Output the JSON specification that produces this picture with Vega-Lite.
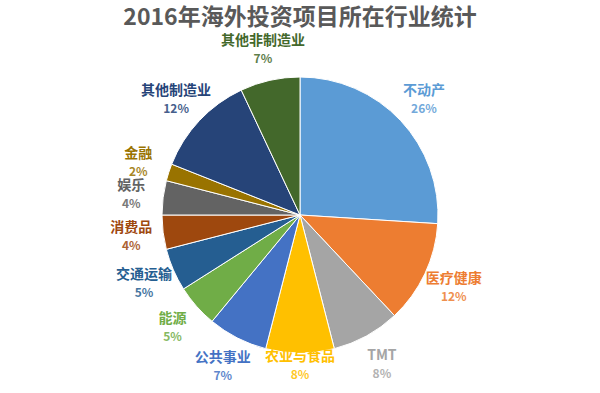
{
  "$schema": "https://vega.github.io/schema/vega-lite/v6.json",
  "width": 600,
  "height": 393,
  "autosize": {"type": "fit", "contains": "padding"},
  "padding": {"top": 10, "left": 0, "right": 0, "bottom": 0},
  "background": "white",
  "title": {
    "text": "2016年海外投资项目所在行业统计",
    "font": "Noto Sans CJK SC",
    "fontSize": 23,
    "fontWeight": "bold",
    "color": "#595959",
    "offset": 4
  },
  "config": {"view": {"stroke": null}},
  "data": {
    "values": [
      {"order": 1, "industry": "不动产", "value": 26, "pct": "26%"},
      {"order": 2, "industry": "医疗健康", "value": 12, "pct": "12%"},
      {"order": 3, "industry": "TMT", "value": 8, "pct": "8%"},
      {"order": 4, "industry": "农业与食品", "value": 8, "pct": "8%"},
      {"order": 5, "industry": "公共事业", "value": 7, "pct": "7%"},
      {"order": 6, "industry": "能源", "value": 5, "pct": "5%"},
      {"order": 7, "industry": "交通运输", "value": 5, "pct": "5%"},
      {"order": 8, "industry": "消费品", "value": 4, "pct": "4%"},
      {"order": 9, "industry": "娱乐", "value": 4, "pct": "4%"},
      {"order": 10, "industry": "金融", "value": 2, "pct": "2%"},
      {"order": 11, "industry": "其他制造业", "value": 12, "pct": "12%"},
      {"order": 12, "industry": "其他非制造业", "value": 7, "pct": "7%"}
    ]
  },
  "encoding": {
    "theta": {"field": "value", "type": "quantitative", "stack": true},
    "order": {"field": "order", "type": "quantitative"},
    "color": {
      "field": "industry",
      "type": "nominal",
      "legend": null,
      "scale": {
        "domain": ["不动产", "医疗健康", "TMT", "农业与食品", "公共事业", "能源", "交通运输", "消费品", "娱乐", "金融", "其他制造业", "其他非制造业"],
        "range": ["#5B9BD5", "#ED7D31", "#A5A5A5", "#FFC000", "#4472C4", "#70AD47", "#255E91", "#9E480E", "#636363", "#997300", "#264478", "#43682B"]
      }
    }
  },
  "layer": [
    {
      "mark": {"type": "arc", "outerRadius": 138, "stroke": "white", "strokeWidth": 1}
    },
    {
      "mark": {"type": "text", "radius": 170, "dy": -8, "font": "Noto Sans CJK SC", "fontSize": 14, "fontWeight": "bold"},
      "encoding": {
        "text": {"field": "industry"},
        "opacity": {"condition": {"test": "datum.order == 4", "value": 0}, "value": 1}
      }
    },
    {
      "mark": {"type": "text", "radius": 170, "dy": 10, "font": "Noto Sans CJK SC", "fontSize": 12, "fontWeight": "bold"},
      "encoding": {
        "text": {"field": "pct"},
        "opacity": {"condition": {"test": "datum.order == 4", "value": 0}, "value": 0.85}
      }
    },
    {
      "mark": {"type": "text", "radius": 150, "dy": -8, "font": "Noto Sans CJK SC", "fontSize": 14, "fontWeight": "bold"},
      "encoding": {
        "text": {"field": "industry"},
        "opacity": {"condition": {"test": "datum.order == 4", "value": 1}, "value": 0}
      }
    },
    {
      "mark": {"type": "text", "radius": 150, "dy": 10, "font": "Noto Sans CJK SC", "fontSize": 12, "fontWeight": "bold"},
      "encoding": {
        "text": {"field": "pct"},
        "opacity": {"condition": {"test": "datum.order == 4", "value": 0.85}, "value": 0}
      }
    }
  ]
}
